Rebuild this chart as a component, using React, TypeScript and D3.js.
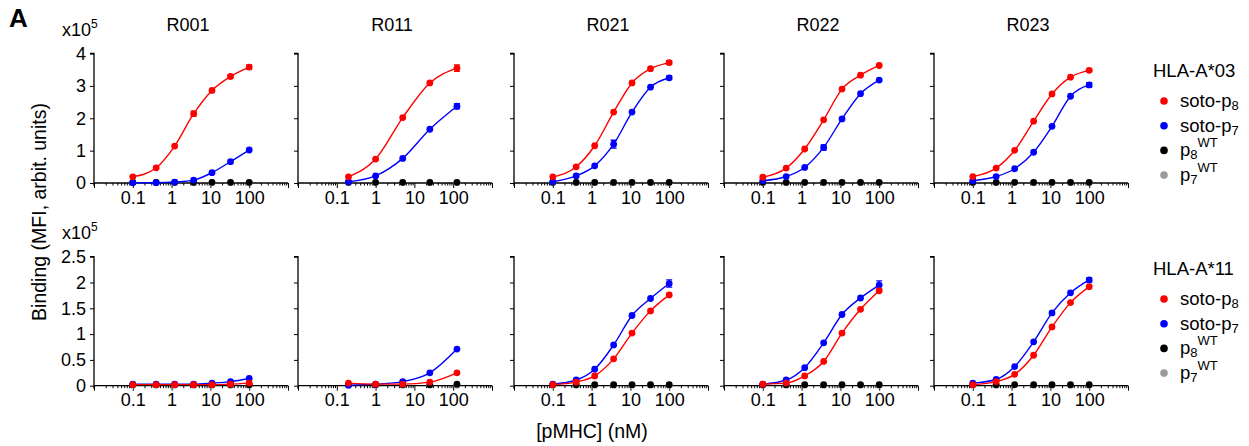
import React, { useEffect, useRef } from 'react';
import * as d3 from 'd3';

// receptors (panel columns)
const receptors = ['R001', 'R011', 'R021', 'R022', 'R023'];
const alleles = ['HLA-A*03', 'HLA-A*11'];

// concentrations (nM) per receptor
const concStd = [0.1, 0.4, 1.2, 3.7, 11, 33, 100];
const concR011 = [0.2, 1, 5, 25, 125];
const concs = [concStd, concR011, concStd, concStd, concStd];

// tick labels
const xTickLabels = [0.1, 1, 10, 100];
const yTicksA03 = [0, 1, 2, 3, 4];
const yTicksA11 = [0, 0.5, 1, 1.5, 2, 2.5];

// binding (x10^5), HLA-A*03
const sotoP8_A03 = [
  [0.19, 0.47, 1.14, 2.14, 2.86, 3.29, 3.58],
  [0.19, 0.74, 2.02, 3.09, 3.55],
  [0.19, 0.5, 1.15, 2.19, 3.09, 3.53, 3.72],
  [0.18, 0.46, 1.05, 1.95, 2.9, 3.33, 3.63],
  [0.2, 0.46, 1.01, 1.91, 2.75, 3.27, 3.48],
];
const sotoP7_A03 = [
  [0.01, 0.01, 0.03, 0.09, 0.32, 0.66, 1.02],
  [0.04, 0.22, 0.76, 1.66, 2.37],
  [0.04, 0.22, 0.53, 1.2, 2.19, 2.96, 3.25],
  [0.07, 0.2, 0.48, 1.1, 1.98, 2.76, 3.18],
  [0.07, 0.2, 0.44, 0.95, 1.75, 2.68, 3.03],
];
const p8WT_A03 = [
  [0.02, 0.02, 0.02, 0.02, 0.02, 0.02, 0.02],
  [0.02, 0.02, 0.02, 0.02, 0.02],
  [0.02, 0.02, 0.02, 0.02, 0.02, 0.02, 0.02],
  [0.02, 0.02, 0.02, 0.02, 0.02, 0.02, 0.02],
  [0.02, 0.02, 0.02, 0.02, 0.02, 0.02, 0.02],
];
const p7WT_A03 = [
  [0.01, 0.01, 0.01, 0.01, 0.01, 0.01, 0.01],
  [0.01, 0.01, 0.01, 0.01, 0.01],
  [0.01, 0.01, 0.01, 0.01, 0.01, 0.01, 0.01],
  [0.01, 0.01, 0.01, 0.01, 0.01, 0.01, 0.01],
  [0.01, 0.01, 0.01, 0.01, 0.01, 0.01, 0.01],
];

// binding (x10^5), HLA-A*11
const sotoP8_A11 = [
  [0.02, 0.02, 0.02, 0.02, 0.02, 0.03, 0.05],
  [0.05, 0.03, 0.03, 0.07, 0.25],
  [0.02, 0.07, 0.19, 0.52, 1.02, 1.45, 1.76],
  [0.03, 0.05, 0.19, 0.47, 1.02, 1.48, 1.84],
  [0.02, 0.08, 0.22, 0.59, 1.14, 1.61, 1.92],
];
const sotoP7_A11 = [
  [0.03, 0.03, 0.03, 0.03, 0.05, 0.08, 0.14],
  [0.01, 0.03, 0.08, 0.25, 0.71],
  [0.03, 0.11, 0.32, 0.79, 1.36, 1.69, 1.98],
  [0.03, 0.11, 0.35, 0.83, 1.38, 1.7, 1.95],
  [0.05, 0.12, 0.37, 0.85, 1.41, 1.8, 2.05],
];
const p8WT_A11 = [
  [0.02, 0.02, 0.02, 0.02, 0.02, 0.02, 0.02],
  [0.02, 0.02, 0.02, 0.02, 0.03],
  [0.02, 0.02, 0.02, 0.02, 0.02, 0.02, 0.02],
  [0.02, 0.02, 0.02, 0.02, 0.02, 0.02, 0.02],
  [0.02, 0.02, 0.02, 0.02, 0.02, 0.02, 0.02],
];
const p7WT_A11 = p7WT_A03;

// error bars (x10^5), same shape, mostly hidden under markers
const errP8_A03 = [
  [0, 0, 0, 0.08, 0, 0.05, 0.07],
  [0, 0, 0, 0, 0.1],
  [0, 0, 0, 0, 0, 0, 0.06],
  [0, 0, 0, 0, 0, 0, 0],
  [0, 0, 0, 0, 0, 0, 0.04],
];
const errP7_A03 = [
  [0, 0, 0, 0, 0, 0, 0],
  [0, 0, 0, 0, 0.08],
  [0, 0, 0, 0.12, 0, 0, 0.06],
  [0, 0, 0, 0.08, 0, 0, 0],
  [0, 0, 0, 0, 0, 0, 0.07],
];
const errP8_A11 = [
  [0, 0, 0, 0, 0, 0, 0],
  [0, 0, 0, 0, 0],
  [0, 0, 0, 0, 0, 0, 0],
  [0, 0, 0, 0, 0, 0, 0],
  [0, 0, 0, 0, 0, 0, 0],
];
const errP7_A11 = [
  [0, 0, 0, 0, 0, 0, 0],
  [0, 0, 0, 0, 0],
  [0, 0, 0, 0, 0, 0, 0.07],
  [0, 0, 0, 0, 0, 0, 0.08],
  [0, 0, 0, 0, 0, 0, 0.04],
];

const seriesNames = ['soto-p8', 'soto-p7', 'p8WT', 'p7WT'];
const seriesColors = ['#ff0000', '#0000ff', '#000000', '#9a9a9a'];

const W = 1249;
const H = 446;
const FONT = 'Liberation Sans, Arial, sans-serif';

export default function App() {
  const ref = useRef(null);

  useEffect(() => {
    const svg = d3.select(ref.current);
    svg.selectAll('*').remove();

    const panelX = [94, 298, 514, 724, 934];
    const panelW = 194;
    const rowDefs = [
      { y0: 183, y1: 53.5, max: 4, ticks: yTicksA03, data: [sotoP8_A03, sotoP7_A03, p8WT_A03, p7WT_A03], err: [errP8_A03, errP7_A03] },
      { y0: 385.7, y1: 256.7, max: 2.5, ticks: yTicksA11, data: [sotoP8_A11, sotoP7_A11, p8WT_A11, p7WT_A11], err: [errP8_A11, errP7_A11] },
    ];

    // panel label
    svg.append('text').attr('x', 9).attr('y', 27).attr('font-family', FONT)
      .attr('font-size', 26).attr('font-weight', 'bold').text('A');

    rowDefs.forEach((row, ri) => {
      const y = d3.scaleLinear().domain([0, row.max]).range([row.y0, row.y1]);

      // x10^5 label
      const ex = svg.append('text').attr('x', 62).attr('y', row.y1 - 18)
        .attr('font-family', FONT).attr('font-size', 18);
      ex.append('tspan').text('x10');
      ex.append('tspan').attr('font-size', 12).attr('dy', -8).text('5');

      receptors.forEach((rec, pi) => {
        const x = d3.scaleLog().domain([0.01, 1000]).range([panelX[pi], panelX[pi] + panelW]);
        const g = svg.append('g');

        if (ri === 0) {
          g.append('text').attr('x', panelX[pi] + panelW / 2 - 3).attr('y', 31)
            .attr('text-anchor', 'middle').attr('font-family', FONT).attr('font-size', 18).text(rec);
        }

        // y axis
        const yAxis = d3.axisLeft(y).tickValues(row.ticks).tickSize(4).tickPadding(4)
          .tickFormat(pi === 0 ? (d => String(d)) : () => '');
        const yg = g.append('g').attr('transform', `translate(${panelX[pi]},0)`).call(yAxis);
        yg.select('.domain').attr('d', `M-4,${row.y1}H0V${row.y0 + 3}`).attr('stroke-width', 1.3);

        // x axis
        const allTicks = x.ticks();
        const isMajor = d => Math.abs(Math.log10(d) - Math.round(Math.log10(d))) < 1e-6;
        const xAxis = d3.axisBottom(x).tickValues(allTicks).tickSize(5).tickPadding(3)
          .tickFormat(d => (xTickLabels.some(v => Math.abs(v - d) < 1e-9) ? String(d) : ''));
        const xg = g.append('g').attr('transform', `translate(0,${row.y0})`).call(xAxis);
        xg.select('.domain').attr('d', `M${panelX[pi]},0H${panelX[pi] + panelW}`).attr('stroke-width', 1.3);
        xg.selectAll('.tick line').attr('y2', d => (isMajor(d) ? 5 : 2.5));
        xg.selectAll('.tick line').attr('stroke-width', 1);

        [yg, xg].forEach(a => a.selectAll('text').attr('font-family', FONT).attr('font-size', 18).attr('fill', '#000'));

        // series, drawn back to front
        const c = concs[pi];
        const line = d3.line().x(d => x(d[0])).y(d => y(d[1])).curve(d3.curveMonotoneX);
        [3, 2, 1, 0].forEach(si => {
          const vals = row.data[si][pi];
          const pts = c.map((cc, k) => [cc, vals[k]]);
          if (si < 2) {
            g.append('path').attr('d', line(pts)).attr('fill', 'none')
              .attr('stroke', seriesColors[si]).attr('stroke-width', 1.4);
            const errs = row.err[si][pi];
            pts.forEach((p, k) => {
              if (!errs[k]) return;
              const cx = x(p[0]);
              const ya = y(p[1] + errs[k]);
              const yb = y(p[1] - errs[k]);
              g.append('path').attr('d', `M${cx},${ya}V${yb}M${cx - 3},${ya}H${cx + 3}M${cx - 3},${yb}H${cx + 3}`)
                .attr('stroke', seriesColors[si]).attr('stroke-width', 1.3).attr('fill', 'none');
            });
          }
          g.selectAll(null).data(pts).join('circle')
            .attr('cx', d => x(d[0])).attr('cy', d => y(d[1])).attr('r', 3.4)
            .attr('fill', seriesColors[si]);
        });
      });

      // legend
      const ly = ri === 0 ? 77 : 275;
      svg.append('text').attr('x', 1153).attr('y', ly).attr('font-family', FONT)
        .attr('font-size', 18.5).text(alleles[ri]);
      seriesNames.forEach((name, si) => {
        const yy = ly + 24 + si * 24.7;
        svg.append('circle').attr('cx', 1164).attr('cy', yy).attr('r', 3.8).attr('fill', seriesColors[si]);
        const t = svg.append('text').attr('x', 1180).attr('y', yy + 6).attr('font-family', FONT).attr('font-size', 18.5);
        if (si < 2) {
          t.append('tspan').text('soto-p');
          t.append('tspan').attr('font-size', 13).attr('dy', 3).text(si === 0 ? '8' : '7');
        } else {
          t.append('tspan').text('p');
          t.append('tspan').attr('font-size', 13).attr('dy', 3).text(si === 2 ? '8' : '7');
          t.append('tspan').attr('font-size', 13).attr('dy', -12).text('WT');
        }
      });
    });

    // axis titles
    svg.append('text').attr('transform', 'translate(46,212) rotate(-90)')
      .attr('text-anchor', 'middle').attr('font-family', FONT).attr('font-size', 19.5)
      .text('Binding (MFI, arbit. units)');
    svg.append('text').attr('x', 592).attr('y', 438).attr('text-anchor', 'middle')
      .attr('font-family', FONT).attr('font-size', 19.5).text('[pMHC] (nM)');
  }, []);

  return (
    <svg ref={ref} width={W} height={H}
      style={{ position: 'absolute', left: 0, top: 0, background: '#fff', display: 'block' }} />
  );
}
